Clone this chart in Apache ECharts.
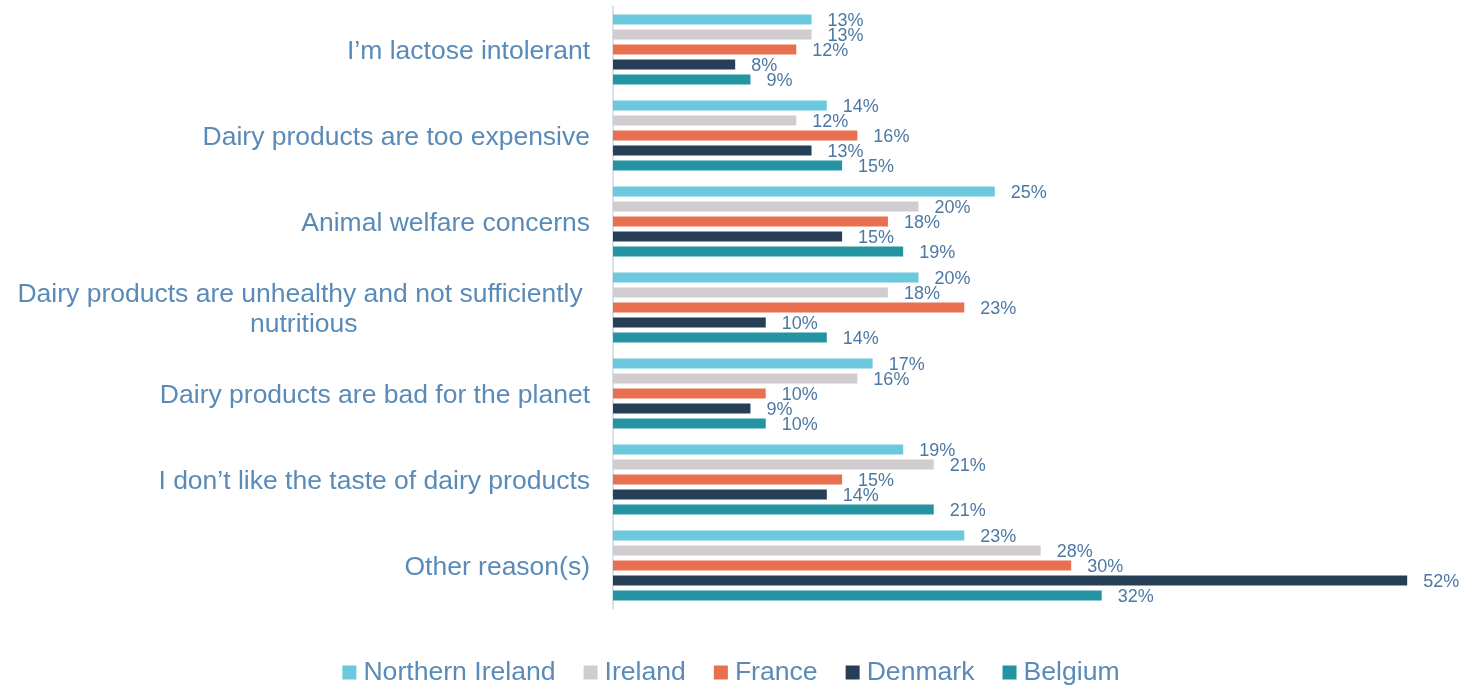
<!DOCTYPE html>
<html>
<head>
<meta charset="utf-8">
<script src="https://cdn.jsdelivr.net/npm/echarts@6/dist/echarts.min.js"></script>
<style>
html,body{margin:0;padding:0;background:#fff;}
#chart{width:1462px;height:685px;}
</style>
</head>
<body>
<div id="chart"></div>
<script>
// categories, top to bottom
var categories = [
    'I\u2019m lactose intolerant',
    'Dairy products are too expensive',
    'Animal welfare concerns',
    'Dairy products are unhealthy and not sufficiently \nnutritious',
    'Dairy products are bad for the planet',
    'I don\u2019t like the taste of dairy products',
    'Other reason(s)'
];
var seriesNames = ['Northern Ireland', 'Ireland', 'France', 'Denmark', 'Belgium'];
var northernIreland = [13, 14, 25, 20, 17, 19, 23];
var ireland         = [13, 12, 20, 18, 16, 21, 28];
var france          = [12, 16, 18, 23, 10, 15, 30];
var denmark         = [8, 13, 15, 10, 9, 14, 52];
var belgium         = [9, 15, 19, 14, 10, 21, 32];

var colors = ['#6CC8DC', '#D0CCCF', '#E87050', '#263F57', '#2494A2'];
var labelBlue = '#5A8BB8';
var valueBlue = '#4D78A3';

var allData = [northernIreland, ireland, france, denmark, belgium];

var myChart = echarts.init(document.getElementById('chart'));

var series = allData.map(function (d, i) {
    return {
        name: seriesNames[i],
        type: 'bar',
        data: d,
        barWidth: 10,
        barGap: '50%',
        itemStyle: { color: colors[i] },
        label: {
            show: true,
            position: 'right',
            distance: 16,
            formatter: '{c}%',
            color: valueBlue,
            fontFamily: 'Liberation Sans',
            fontSize: 18,
            offset: [0, 2]
        }
    };
});

var option = {
    animation: false,
    backgroundColor: '#fff',
    grid: {
        left: 613,
        right: 9,
        top: 6.5,
        bottom: 76.5
    },
    legend: {
        bottom: -6,
        left: 'center',
        itemWidth: 14,
        itemHeight: 14,
        itemGap: 28,
        icon: 'rect',
        textStyle: {
            color: labelBlue,
            fontFamily: 'Liberation Sans',
            fontSize: 26.6,
            padding: [0, 0, 0, 2]
        },
        data: seriesNames
    },
    xAxis: {
        type: 'value',
        min: 0,
        max: 55,
        show: false
    },
    yAxis: {
        type: 'category',
        inverse: true,
        data: categories,
        axisLine: { show: true, lineStyle: { color: '#D9E1EB', width: 2 } },
        axisTick: { show: false },
        axisLabel: {
            margin: 23,
            color: labelBlue,
            fontFamily: 'Liberation Sans',
            fontSize: 26.5,
            lineHeight: 30,
            padding: [4, 0, 0, 0],
            formatter: function (v) {
                var parts = v.split('\n');
                if (parts.length > 1) {
                    return parts[0] + '\n{c|' + parts[1] + '}';
                }
                return v;
            },
            rich: {
                c: {
                    align: 'center',
                    color: labelBlue,
                    fontFamily: 'Liberation Sans',
                    fontSize: 26.5,
                    lineHeight: 30
                }
            }
        }
    },
    series: series
};

myChart.setOption(option);
window.onresize = myChart.resize;
</script>
</body>
</html>
